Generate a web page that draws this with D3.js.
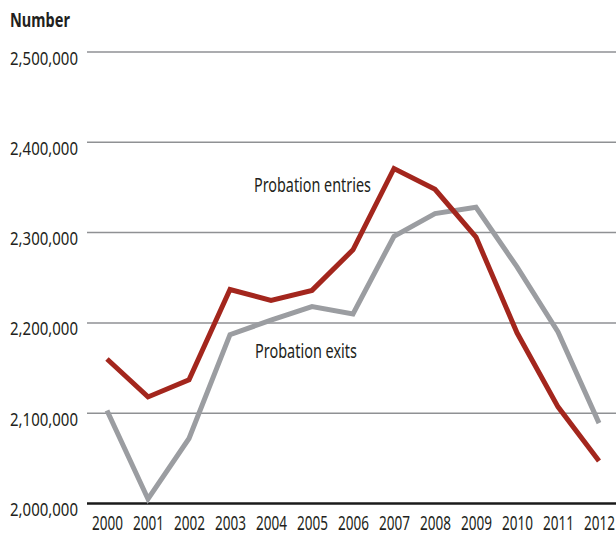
<!DOCTYPE html>
<html><head><meta charset="utf-8">
<script src="https://cdn.jsdelivr.net/npm/d3@7"></script>
<style>
html,body{margin:0;padding:0;background:#fff;}
svg{display:block;}
text{font-family:"Noto Sans","Open Sans",sans-serif;fill:#231f20;}
</style></head>
<body>
<script>
const years = [2000,2001,2002,2003,2004,2005,2006,2007,2008,2009,2010,2011,2012];
const entries = [2160000,2118000,2137000,2237000,2225000,2236000,2281000,2371000,2348000,2295000,2189000,2107000,2047000];
const exits = [2103000,2005000,2072000,2187000,2203000,2218000,2210000,2296000,2321000,2328000,2262000,2190000,2089000];
const yTicks = [2000000,2100000,2200000,2300000,2400000,2500000];
const seriesNames = ["Probation entries","Probation exits"];
const yTitle = "Number";

const W = 616, H = 535;
const svg = d3.select("body").append("svg").attr("width", W).attr("height", H);

const x = d3.scalePoint().domain(years).range([107, 599]);
const y = d3.scaleLinear().domain([2000000, 2500000]).range([503.5, 52]);

const fmt = d3.format(",");

// horizontally condense a text to a target width (emulates a condensed typeface)
function condense(sel, target, tx, ty) {
  sel.each(function() {
    const n = this.getComputedTextLength();
    const sx = Math.min(1, target / n);
    d3.select(this).attr("x", 0).attr("y", 0)
      .attr("transform", `translate(${tx},${ty}) scale(${sx},1)`);
  });
}

// gridlines
svg.append("g").selectAll("line").data(yTicks.filter(d => d > 2000000)).join("line")
  .attr("x1", 87).attr("x2", W).attr("y1", d => y(d)).attr("y2", d => y(d))
  .attr("stroke", "#8f9194").attr("stroke-width", 1.5);

// y axis labels
const yAxis = d3.axisLeft(y).tickValues(yTicks).tickFormat(fmt).tickSize(0).tickPadding(0);
const gy = svg.append("g").attr("transform", "translate(78,0)").call(yAxis);
gy.select(".domain").remove();
gy.selectAll("text").attr("font-size", 18.5).attr("fill", "#231f20")
  .style("font-family", '"Noto Sans","Open Sans",sans-serif')
  .attr("dy", null).call(condense, 68, 0, 12);

// x axis
const xAxis = d3.axisBottom(x).tickSize(0).tickPadding(0);
const gx = svg.append("g").attr("transform", "translate(0,530)").call(xAxis);
gx.select(".domain").remove();
gx.selectAll("text").attr("font-size", 20.5).attr("fill", "#231f20")
  .style("font-family", '"Noto Sans","Open Sans",sans-serif')
  .attr("dy", null).call(condense, 31, 0, 0);

// baseline
svg.append("line").attr("x1", 87).attr("x2", W).attr("y1", y(2000000)).attr("y2", y(2000000))
  .attr("stroke", "#1a1a1a").attr("stroke-width", 2.5);

const line = d3.line().x((d, i) => x(years[i])).y(d => y(d));

svg.append("path").datum(exits).attr("d", line).attr("fill", "none")
  .attr("stroke", "#9b9da1").attr("stroke-width", 5).attr("stroke-linejoin", "miter");
svg.append("path").datum(entries).attr("d", line).attr("fill", "none")
  .attr("stroke", "#a3261d").attr("stroke-width", 5).attr("stroke-linejoin", "miter");

// labels
svg.append("text").attr("font-size", 20.5).text(seriesNames[0]).call(condense, 117, 254, 191.5);
svg.append("text").attr("font-size", 20.5).text(seriesNames[1]).call(condense, 102, 255, 358);

svg.append("text").attr("font-size", 19.5).attr("font-weight", "bold").text(yTitle).call(condense, 60, 10, 27);
</script>
</body></html>
